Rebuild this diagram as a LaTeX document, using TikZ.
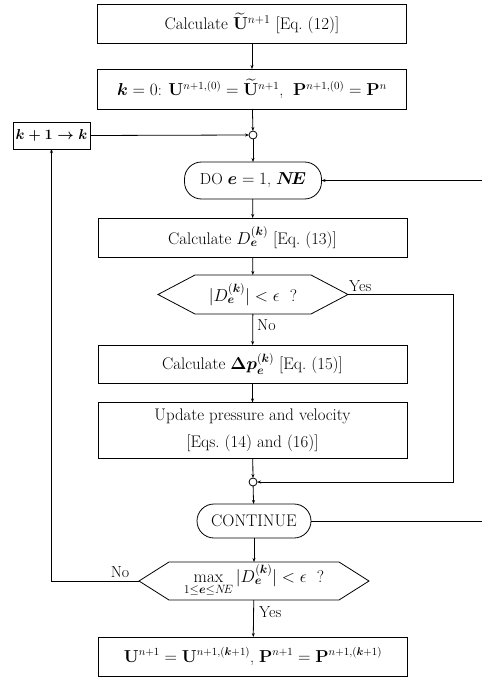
\documentclass[tikz,border=0pt]{standalone}
\usepackage{amsmath}
\usetikzlibrary{arrows.meta,calc}
% outline of a hexagonal decision box around node #1, slanted by #2
\newcommand\hexframe[2]{%
  \draw[line width=0.8pt] (#1.west) -- ($(#1.north west)+(#2,0)$) -- ($(#1.north east)-(#2,0)$)
    -- (#1.east) -- ($(#1.south east)-(#2,0)$) -- ($(#1.south west)+(#2,0)$) -- cycle;}
\begin{document}
\begin{tikzpicture}[x=1pt,y=-1pt,
  every node/.style={font=\fontsize{16}{19}\selectfont},
  bigtext/.style={font=\fontsize{16.8}{20}\selectfont},
  box/.style={draw, line width=0.8pt, inner sep=0pt, outer sep=0pt,
    minimum width=309pt, minimum height=#1, align=center},
  box/.default=39pt,
  loopbox/.style={draw, line width=0.8pt, inner sep=0pt, outer sep=0pt,
    rounded corners=17pt},
  decision/.style={inner sep=0pt, outer sep=0pt},
  jn/.style={circle, draw, fill=white, inner sep=0pt, outer sep=0pt,
    minimum size=8pt, line width=0.8pt},
  link/.style={line width=0.8pt, -{Stealth[length=4pt,width=3pt]}},
  plain/.style={line width=0.8pt},
  lbl/.style={inner sep=0pt}
]
\useasboundingbox (0,0) rectangle (482,679);

% process chain
\node[box, bigtext] (b1) at (252,23.5) {Calculate $\widetilde{\mathbf U}^{n+1}$ [Eq.~(12)]};
\node[box=40pt] (b2) at (252,89)
  {$\boldsymbol{k}=0$: $\mathbf U^{n+1,(0)}=\widetilde{\mathbf U}^{n+1}$,\ \ $\mathbf P^{n+1,(0)}=\mathbf P^{n}$};
\node[jn] (j1) at (253,135) {};
\node[draw, line width=0.8pt, inner sep=0pt, outer sep=0pt,
  minimum width=77pt, minimum height=27pt, font=\fontsize{13.5}{16}\selectfont]
  (kb) at (51.5,135.5) {$\boldsymbol{k+1\to k}$};
\node[loopbox, minimum width=137pt, minimum height=37pt] (do) at (253,180.5)
  {DO $\boldsymbol{e}=1$, $\boldsymbol{N\!E}$};
\node[box, bigtext] (cd) at (252.5,237.5) {Calculate $D_{\boldsymbol{e}}^{(\boldsymbol{k})}$ [Eq.~(13)]};
\node[decision, bigtext, minimum width=190pt, minimum height=39pt] (h1) at (253,294.5)
  {$|D_{\boldsymbol{e}}^{(\boldsymbol{k})}|<\epsilon$\ \ ?};
\hexframe{h1}{37}
\node[box=38pt, bigtext] (dp) at (252.5,364)
  {Calculate $\boldsymbol{\Delta p}_{\boldsymbol{e}}^{(\boldsymbol{k})}$ [Eq.~(15)]};
\node[box=56pt, font=\fontsize{16.8}{27}\selectfont] (up) at (252.5,430.5)
  {Update pressure and velocity\\ {[}Eqs.~(14) and (16){]}};
\node[jn] (j2) at (253,482) {};
\node[loopbox, bigtext, minimum width=114pt, minimum height=34pt] (cont) at (254,521) {CONTINUE};
\node[decision, bigtext, minimum width=230pt, minimum height=38pt] (h2) at (254,581)
  {$\max\limits_{1\le \boldsymbol{e}\le N\!E}|D_{\boldsymbol{e}}^{(\boldsymbol{k})}|<\epsilon$\ \ ?};
\hexframe{h2}{30}
\node[box] (fin) at (253,656.5)
  {$\mathbf U^{n+1}=\mathbf U^{n+1,(\boldsymbol{k}+1)}$, $\mathbf P^{n+1}=\mathbf P^{n+1,(\boldsymbol{k}+1)}$};

% main flow
\draw[link] (b1) -- (b2);
\draw[link] (b2) -- (j1);
\draw[link] (j1) -- (do);
\draw[link] (do) -- (cd);
\draw[link] (cd) -- (h1);
\draw[link] (h1) -- (dp);
\draw[link] (dp) -- (up);
\draw[link] (up) -- (j2);
\draw[link] (j2) -- (cont);
\draw[link] (cont) -- (h2);
\draw[link] (h2) -- (fin);

% outer iteration loop
\draw[link] (kb.east) -- (j1.west);
\draw[link] (h2.west) -- (h2.west -| kb.south) -- (kb.south);

% skip branch
\coordinate (yc) at (453,294.5);
\draw[link] (h1.east) -- (yc) |- (j2.east);

% element loop return
\coordinate (re1) at (482,180.5);
\coordinate (re2) at (482,521);
\draw[link] (re1) -- (do.east);
\draw[plain] (cont.east) -- (re2);

% branch labels
\node[lbl, anchor=west] (yes1) at (349,286) {Yes};
\node[lbl, anchor=west] (no1) at (257,325) {No};
\node[lbl] (no2) at (120,572) {No};
\node[lbl, anchor=west] (yes2) at (259,612) {Yes};
\end{tikzpicture}
\end{document}
